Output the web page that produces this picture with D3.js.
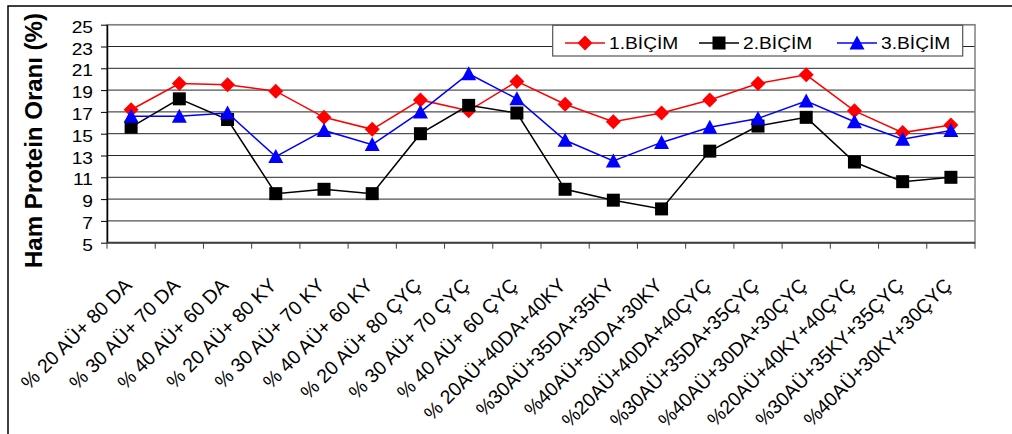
<!DOCTYPE html>
<html>
<head>
<meta charset="utf-8">
<script src="https://cdn.jsdelivr.net/npm/d3@7"></script>
<style>
  html, body { margin: 0; padding: 0; background: #fff; }
  svg { display: block; font-family: Arial, "Liberation Sans", Helvetica, sans-serif; }
</style>
</head>
<body>
<svg id="chart" width="1012" height="434"></svg>
<script>
// Categories: forage mixture ratios
const categories = [
  "% 20 AÜ+ 80 DA", "% 30 AÜ+ 70 DA", "% 40 AÜ+ 60 DA",
  "% 20 AÜ+ 80 KY", "% 30 AÜ+ 70 KY", "% 40 AÜ+ 60 KY",
  "% 20 AÜ+ 80 ÇYÇ", "% 30 AÜ+ 70 ÇYÇ", "% 40 AÜ+ 60 ÇYÇ",
  "% 20AÜ+40DA+40KY", "%30AÜ+35DA+35KY", "%40AÜ+30DA+30KY",
  "%20AÜ+40DA+40ÇYÇ", "%30AÜ+35DA+35ÇYÇ", "%40AÜ+30DA+30ÇYÇ",
  "%20AÜ+40KY+40ÇYÇ", "%30AÜ+35KY+35ÇYÇ", "%40AÜ+30KY+30ÇYÇ"
];

// Crude protein ratio (%) per harvest
const bicim1 = [17.2, 19.6, 19.5, 18.9, 16.5, 15.4, 18.1, 17.1, 19.8, 17.7, 16.1, 16.9, 18.1, 19.6, 20.4, 17.1, 15.1, 15.8];
const bicim2 = [15.6, 18.2, 16.3, 9.5, 9.9, 9.5, 15.0, 17.6, 16.9, 9.9, 8.9, 8.1, 13.4, 15.7, 16.5, 12.4, 10.6, 11.0];
const bicim3 = [16.6, 16.6, 16.9, 12.9, 15.3, 14.0, 17.0, 20.5, 18.2, 14.4, 12.5, 14.2, 15.6, 16.4, 18.0, 16.1, 14.5, 15.3];

const seriesNames = ["1.BİÇİM", "2.BİÇİM", "3.BİÇİM"];
const seriesColors = ["#ff0000", "#000000", "#0000ff"];
const seriesShapes = ["diamond", "square", "triangle"];
const yTicks = [5, 7, 9, 11, 13, 15, 17, 19, 21, 23, 25];
const yTitle = "Ham Protein Oranı (%)";

const SX = 1.13; // horizontal text stretch

const svg = d3.select("#chart");

// Outer frame
svg.append("rect")
  .attr("x", 8).attr("y", 6).attr("width", 1200).attr("height", 600)
  .attr("fill", "none").attr("stroke", "#000").attr("stroke-width", 1.5);

const plot = { left: 107, right: 975, top: 24.7, bottom: 242.7 };

const x = d3.scaleBand().domain(categories).range([plot.left, plot.right]).padding(0);
const y = d3.scaleLinear().domain([5, 25]).range([plot.bottom, plot.top]);
const cx = c => x(c) + x.bandwidth() / 2;

// Horizontal gridlines
svg.append("g").selectAll("line")
  .data(yTicks.filter(v => v > 5))
  .join("line")
  .attr("x1", plot.left).attr("x2", plot.right)
  .attr("y1", d => y(d)).attr("y2", d => y(d))
  .attr("stroke", "#262626").attr("stroke-width", 1);

// Plot area border
svg.append("rect")
  .attr("x", plot.left).attr("y", plot.top)
  .attr("width", plot.right - plot.left).attr("height", plot.bottom - plot.top)
  .attr("fill", "none").attr("stroke", "#808080").attr("stroke-width", 1.5);

// Y axis
const yAxis = svg.append("g")
  .attr("transform", `translate(${plot.left},0)`)
  .call(d3.axisLeft(y).tickValues(yTicks).tickSize(6).tickPadding(6.4).tickSizeOuter(0));
yAxis.select(".domain").attr("stroke", "#000").attr("stroke-width", 1.5);
yAxis.selectAll(".tick line").attr("stroke", "#000");
yAxis.selectAll(".tick text")
  .attr("font-size", 17).attr("fill", "#000")
  .attr("font-family", "Arial, 'Liberation Sans', sans-serif")
  .attr("dy", "0.45em")
  .attr("transform", `scale(${SX},1)`);

// X axis: ticks at category boundaries
const boundaries = categories.map(c => x(c)).concat([plot.right]);
svg.append("g").selectAll("line")
  .data(boundaries)
  .join("line")
  .attr("x1", d => d).attr("x2", d => d)
  .attr("y1", plot.bottom).attr("y2", plot.bottom + 6)
  .attr("stroke", "#404040").attr("stroke-width", 1);
svg.append("line")
  .attr("x1", plot.left).attr("x2", plot.right)
  .attr("y1", plot.bottom).attr("y2", plot.bottom)
  .attr("stroke", "#404040").attr("stroke-width", 2);

// Category labels, rotated 45 degrees
svg.append("g").selectAll("text")
  .data(categories)
  .join("text")
  .attr("transform", c => `translate(${cx(c) - 3},${plot.bottom + 39}) rotate(-45)`)
  .attr("text-anchor", "end")
  .attr("dy", "0.35em")
  .attr("font-size", 19.5)
  .attr("fill", "#000")
  .text(c => c);

// Y axis title
svg.append("text")
  .attr("transform", `translate(41.5,140.5) rotate(-90)`)
  .attr("text-anchor", "middle")
  .attr("font-size", 23)
  .attr("font-weight", "bold")
  .attr("textLength", 255)
  .attr("lengthAdjust", "spacingAndGlyphs")
  .text(yTitle);

// Marker shapes
function markerPath(shape, px, py) {
  if (shape === "diamond") {
    return `M${px},${py - 7.5}L${px + 7.5},${py}L${px},${py + 7.5}L${px - 7.5},${py}Z`;
  } else if (shape === "square") {
    return `M${px - 6.5},${py - 6.5}h13v13h-13Z`;
  }
  return `M${px},${py - 7.5}L${px + 7.5},${py + 6.5}L${px - 7.5},${py + 6.5}Z`;
}

const allSeries = [bicim1, bicim2, bicim3];
const line = d3.line().x((d, i) => cx(categories[i])).y(d => y(d));

allSeries.forEach((vals, si) => {
  const g = svg.append("g");
  g.append("path")
    .attr("d", line(vals))
    .attr("fill", "none")
    .attr("stroke", seriesColors[si])
    .attr("stroke-width", 1.5);
  g.selectAll("path.mk")
    .data(vals)
    .join("path")
    .attr("class", "mk")
    .attr("d", (d, i) => markerPath(seriesShapes[si], cx(categories[i]), y(d)))
    .attr("fill", seriesColors[si]);
});

// Legend
const legend = svg.append("g");
legend.append("rect")
  .attr("x", 552.7).attr("y", 25.3).attr("width", 410).attr("height", 30.7)
  .attr("fill", "#fff").attr("stroke", "#555").attr("stroke-width", 1.2);
const legendItems = [565, 699, 837];
const legendY = 43;
seriesNames.forEach((name, si) => {
  const lx = legendItems[si];
  legend.append("line")
    .attr("x1", lx).attr("x2", lx + 40)
    .attr("y1", legendY).attr("y2", legendY)
    .attr("stroke", seriesColors[si]).attr("stroke-width", 1.5);
  legend.append("path")
    .attr("d", markerPath(seriesShapes[si], lx + 20, legendY))
    .attr("fill", seriesColors[si]);
  legend.append("text")
    .attr("transform", `translate(${lx + 44},${legendY + 5.5}) scale(${SX},1)`)
    .attr("font-size", 17)
    .attr("fill", "#000")
    .text(name);
});
</script>
</body>
</html>
